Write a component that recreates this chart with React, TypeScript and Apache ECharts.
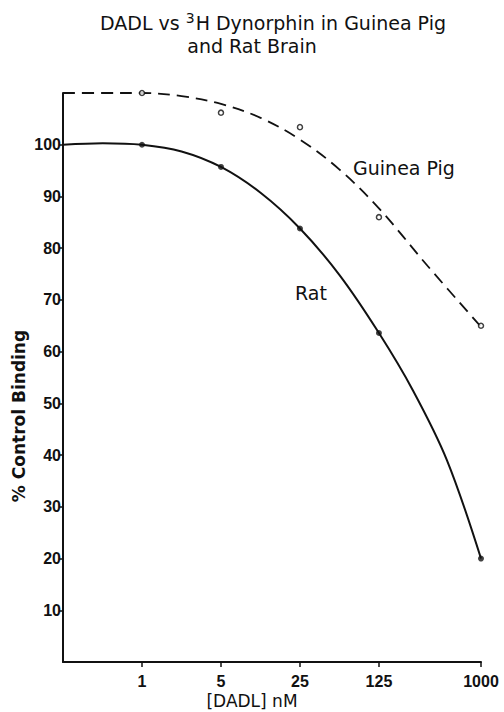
import React, { useEffect, useRef } from "react";
import * as echarts from "echarts";

// Measured points: concentration (nM) and % control binding
const pointConc = [1, 5, 25, 125, 1000];
const ratPoints = [100, 95.7, 83.8, 63.6, 20];
const gpPoints = [110, 106.2, 103.4, 86, 65];

// Fitted curves (concentration nM, % control binding)
const ratCurveConc = [0.2, 0.45, 1, 2.24, 5, 11.2, 25, 56, 125, 250, 500, 1000];
const ratCurve = [100, 100.3, 100, 98.7, 95.7, 90.7, 83.8, 74.8, 63.6, 52.5, 39.0, 20];
const gpCurveConc = [0.2, 0.45, 1, 2.24, 5, 11.2, 25, 56, 125, 336, 1000];
const gpCurve = [110, 110, 110, 109.4, 107.9, 105.2, 101.0, 95.2, 87.7, 76.6, 64.8];

// tick labels
const xTicks = [1, 5, 25, 125, 1000];
const yTicks = [10, 20, 30, 40, 50, 60, 70, 80, 90, 100];

const pairs = (xs: number[], ys: number[]) => xs.map((x, i) => [x, ys[i]]);

export default function App() {
  const ref = useRef<HTMLDivElement>(null);
  useEffect(() => {
    document.body.style.margin = "0";
    if (!ref.current) return;
    const chart = echarts.init(ref.current, null, { renderer: "svg" });
    const black = "#111";
    const tickFont = { color: black, fontFamily: "Liberation Sans", fontWeight: "bold", fontSize: 16 };
    chart.setOption({
      animation: false,
      backgroundColor: "#fff",
      grid: { left: 63, right: 23, top: 93, bottom: 50, containLabel: false },
      xAxis: {
        type: "log",
        logBase: 10,
        min: 0.2,
        max: 1000,
        axisLine: { lineStyle: { color: black, width: 2 } },
        axisTick: { customValues: xTicks, length: 5, lineStyle: { color: black, width: 1.5 } },
        axisLabel: { customValues: xTicks, margin: 11, formatter: (v: number) => String(v), ...tickFont },
        minorTick: { show: false },
        splitLine: { show: false },
      },
      yAxis: {
        type: "value",
        min: 0,
        max: 110,
        interval: 10,
        axisLine: { show: true, lineStyle: { color: black, width: 2 } },
        axisTick: { show: true, customValues: yTicks, length: 4, lineStyle: { color: black, width: 1.5 } },
        axisLabel: { customValues: yTicks, margin: 2, ...tickFont },
        splitLine: { show: false },
      },
      graphic: [
        {
          type: "text",
          x: 100,
          y: 23,
          style: {
            text: "{a|DADL vs }{s|3}{a|H Dynorphin in Guinea Pig}",
            textVerticalAlign: "middle",
            rich: {
              a: { fontFamily: "DejaVu Sans", fontSize: 19, fill: black },
              s: { fontFamily: "DejaVu Sans", fontSize: 14, fill: black, verticalAlign: "top", padding: [0, 1, 10, 0] },
            },
          },
        },
        {
          type: "text",
          x: 252,
          y: 46,
          style: {
            text: "and Rat Brain",
            font: "19px 'DejaVu Sans'",
            fill: black,
            textAlign: "center",
            textVerticalAlign: "middle",
          },
        },
        {
          type: "text",
          x: 404,
          y: 168,
          style: {
            text: "Guinea Pig",
            font: "19px 'DejaVu Sans'",
            fill: black,
            textAlign: "center",
            textVerticalAlign: "middle",
          },
        },
        {
          type: "text",
          x: 311,
          y: 293,
          style: {
            text: "Rat",
            font: "19px 'DejaVu Sans'",
            fill: black,
            textAlign: "center",
            textVerticalAlign: "middle",
          },
        },
        {
          type: "text",
          x: 252,
          y: 701,
          style: {
            text: "[DADL] nM",
            font: "17px 'DejaVu Sans'",
            fill: black,
            textAlign: "center",
            textVerticalAlign: "middle",
          },
        },
        {
          type: "text",
          x: 19,
          y: 416,
          rotation: Math.PI / 2,
          style: {
            text: "% Control Binding",
            font: "bold 17px 'DejaVu Sans'",
            fill: black,
            textAlign: "center",
            textVerticalAlign: "middle",
          },
        },
      ],
      series: [
        {
          name: "Rat curve",
          type: "line",
          data: pairs(ratCurveConc, ratCurve),
          smooth: 0.35,
          showSymbol: false,
          symbol: "none",
          lineStyle: { color: black, width: 2 },
          z: 2,
        },
        {
          name: "Guinea Pig curve",
          type: "line",
          data: pairs(gpCurveConc, gpCurve),
          smooth: 0.35,
          showSymbol: false,
          symbol: "none",
          lineStyle: { color: black, width: 1.8, type: [12, 7] },
          z: 2,
        },
        {
          name: "Rat",
          type: "scatter",
          data: pairs(pointConc, ratPoints),
          symbol: "circle",
          symbolSize: 6,
          itemStyle: { color: black },
          z: 3,
        },
        {
          name: "Guinea Pig",
          type: "scatter",
          data: pairs(pointConc, gpPoints),
          symbol: "circle",
          symbolSize: 5,
          itemStyle: { color: "#fff", borderColor: black, borderWidth: 1.5 },
          z: 3,
        },
      ],
    });
    return () => chart.dispose();
  }, []);
  return <div ref={ref} style={{ width: 504, height: 712 }} />;
}
